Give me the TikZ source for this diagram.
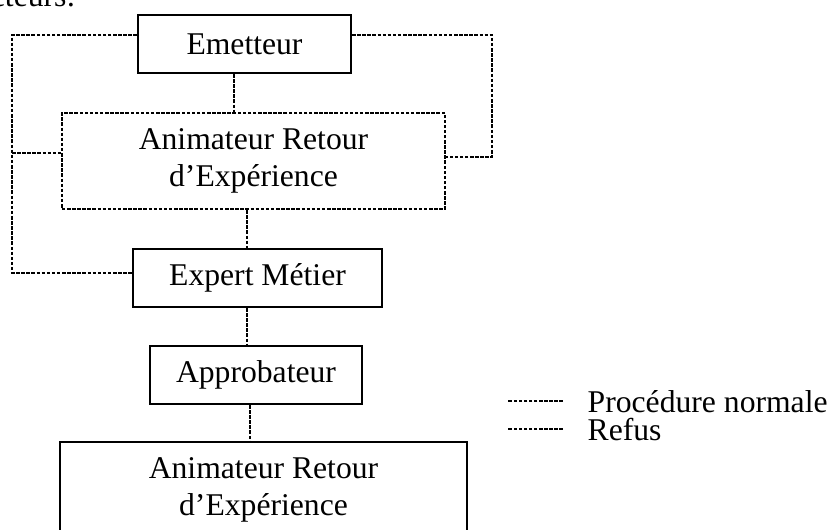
\documentclass[tikz,border=0pt]{standalone}
\usepackage{fontspec}
\setmainfont{Liberation Serif}
\tikzset{
  box/.style={draw, line width=0.55pt, inner sep=0pt, font=\fontsize{9pt}{10.5pt}\selectfont},
  dotbox/.style={box, dash pattern=on 1pt off 0.45pt, line width=0.6pt},
  lien/.style={line width=0.6pt, dash pattern=on 1pt off 0.45pt},
  legende/.style={inner sep=0pt, font=\fontsize{9pt}{10.5pt}\selectfont},
}
\begin{document}
\begin{tikzpicture}[x=0.01cm, y=-0.01cm]
  \useasboundingbox (0,0) rectangle (827,529);
  \clip (0,0) rectangle (827,529);
  \node[legende, anchor=base east] (titre) at (76,6) {acteurs:};
  % boxes
  \node[box, minimum width=2.13cm, minimum height=0.58cm] (emet) at (244.5,44) {Emetteur};
  \node[dotbox, align=center, minimum width=3.83cm, minimum height=0.96cm] (are) at (253.5,161) {Animateur Retour\\d'Expérience};
  \node[box, minimum width=2.49cm, minimum height=0.58cm] (expert) at (257.5,278) {Expert Métier\hspace{0.34cm}};
  \node[box, minimum width=2.12cm, minimum height=0.58cm] (approb) at (256,375) {Approbateur\hspace{0.1cm}};
  \node[box, align=center, minimum width=4.07cm, minimum height=0.96cm] (arefin) at (263.5,490) {Animateur Retour\\d'Expérience};
  \coordinate (lx) at (12,0);
  \coordinate (rx) at (492,0);
  % procedure normale
  \draw[lien] ([xshift=-0.105cm]emet.south) -- ([xshift=-0.105cm]emet.south |- are.north);
  \draw[lien] ([xshift=-0.065cm]are.south) -- ([xshift=-0.065cm]are.south |- expert.north);
  \draw[lien] ([xshift=-0.105cm]expert.south) -- ([xshift=-0.105cm]expert.south |- approb.north);
  \draw[lien] ([xshift=-0.06cm]approb.south) -- ([xshift=-0.06cm]approb.south |- arefin.north);
  % refus
  \draw[lien] ([yshift=0.09cm]emet.west) -| ([yshift=0.05cm]expert.west -| lx) -- ([yshift=0.05cm]expert.west);
  \draw[lien] ([yshift=0.08cm]are.west -| lx) -- ([yshift=0.08cm]are.west);
  \draw[lien] ([yshift=0.09cm]emet.east) -| ([yshift=0.04cm]are.east -| rx) -- ([yshift=0.04cm]are.east);
  % legende
  \node[legende, anchor=base west] (lgnorm) at (587,412) {Procédure normale};
  \node[legende, anchor=base west] (lgref) at (587,440) {Refus};
  \draw[lien] ([xshift=-0.24cm]lgnorm.west) -- ([xshift=-0.8cm]lgnorm.west);
  \draw[lien] ([xshift=-0.24cm]lgref.west) -- ([xshift=-0.79cm]lgref.west);
\end{tikzpicture}
\end{document}
